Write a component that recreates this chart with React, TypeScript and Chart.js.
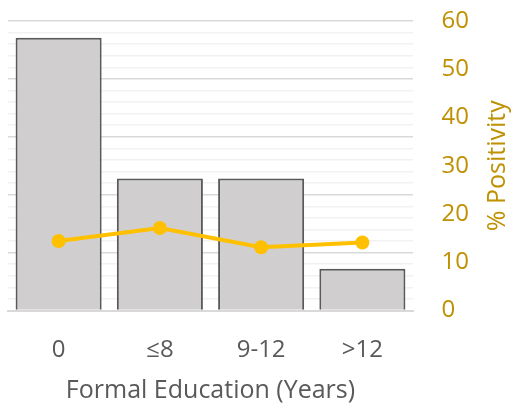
import React, { useEffect, useRef } from "react";
import { Chart, registerables } from "chart.js";

Chart.register(...registerables);

const categories = ["0", "≤8", "9-12", ">12"];
const barValues = [47.1, 22.8, 22.8, 7.2];
const positivity = [14.4, 17.1, 13.1, 14.1];
const rightTicks = [0, 10, 20, 30, 40, 50, 60];

const FONT = "'Open Sans', sans-serif";
const GOLD = "#BF9000";
const LINE = "#FFC000";
const GRAY_TEXT = "#595959";

const CANVAS_W = 515;
const CANVAS_H = 406;
const PLOT_TOP = 21;
const PLOT_BOTTOM = 310.5;
const PLOT_LEFT = 8;
const PLOT_RIGHT = 413;

const rightTitlePlugin = {
  id: "rightTitle",
  afterDraw(chart: any) {
    const { ctx, chartArea } = chart;
    ctx.save();
    ctx.translate(chartArea.right + 85, (chartArea.top + chartArea.bottom) / 2);
    ctx.rotate(-Math.PI / 2);
    ctx.textAlign = "center";
    ctx.textBaseline = "middle";
    ctx.font = `25px ${FONT}`;
    ctx.fillStyle = GOLD;
    ctx.fillText("% Positivity", 0, 0);
    ctx.restore();
  },
};

export default function App() {
  const ref = useRef<HTMLCanvasElement>(null);
  useEffect(() => {
    if (!ref.current) return;
    const chart = new Chart(ref.current, {
      type: "bar",
      data: {
        labels: categories,
        datasets: [
          {
            type: "line",
            data: positivity,
            yAxisID: "y1",
            borderColor: LINE,
            backgroundColor: LINE,
            borderWidth: 4,
            pointRadius: 7,
            pointBorderWidth: 0,
            pointBackgroundColor: LINE,
            order: 0,
          } as any,
          {
            type: "bar",
            data: barValues,
            yAxisID: "y",
            backgroundColor: "#D0CECE",
            borderColor: "#595959",
            borderWidth: 2,
            categoryPercentage: 1,
            barPercentage: 0.85,
            order: 1,
          },
        ],
      },
      options: {
        responsive: false,
        animation: false,
        layout: { padding: { left: PLOT_LEFT, top: PLOT_TOP, right: 0, bottom: 0 } },
        plugins: { legend: { display: false }, tooltip: { enabled: false } },
        scales: {
          x: {
            grid: { display: false, drawTicks: false },
            border: { display: true, color: "#D9D9D9", width: 2 },
            ticks: { color: GRAY_TEXT, font: { family: FONT, size: 24 }, padding: 25 },
            title: {
              display: true,
              text: "Formal Education (Years)",
              color: GRAY_TEXT,
              font: { family: FONT, size: 25 },
              padding: { top: 0, bottom: 0 },
            },
            afterFit: (s: any) => {
              s.height = CANVAS_H - PLOT_BOTTOM;
              s.paddingLeft = 0;
              s.paddingRight = 0;
            },
          },
          y: {
            position: "left",
            min: 0,
            max: 50,
            ticks: { display: false, stepSize: 2 },
            border: { display: false },
            grid: {
              drawTicks: false,
              color: (c: any) => (Math.round(c.tick.value) % 10 === 0 ? "#D9D9D9" : "#F2F2F2"),
              lineWidth: 1.5,
            },
            afterFit: (s: any) => {
              s.width = 0;
              s.paddingTop = 0;
              s.paddingBottom = 0;
            },
          },
          y1: {
            position: "right",
            min: 0,
            max: 60,
            afterBuildTicks: (s: any) => {
              s.ticks = rightTicks.map((v) => ({ value: v }));
            },
            grid: { display: false, drawTicks: false },
            border: { display: false },
            ticks: { color: GOLD, font: { family: FONT, size: 24 }, padding: 28.5 },
            afterFit: (s: any) => {
              s.width = CANVAS_W - PLOT_RIGHT;
              s.paddingTop = 0;
              s.paddingBottom = 0;
            },
          },
        },
      },
      plugins: [rightTitlePlugin],
    });
    return () => chart.destroy();
  }, []);
  return (
    <div style={{ position: "fixed", left: 0, top: 0, width: CANVAS_W, height: CANVAS_H, background: "#fff" }}>
      <canvas ref={ref} width={CANVAS_W} height={CANVAS_H} />
    </div>
  );
}
